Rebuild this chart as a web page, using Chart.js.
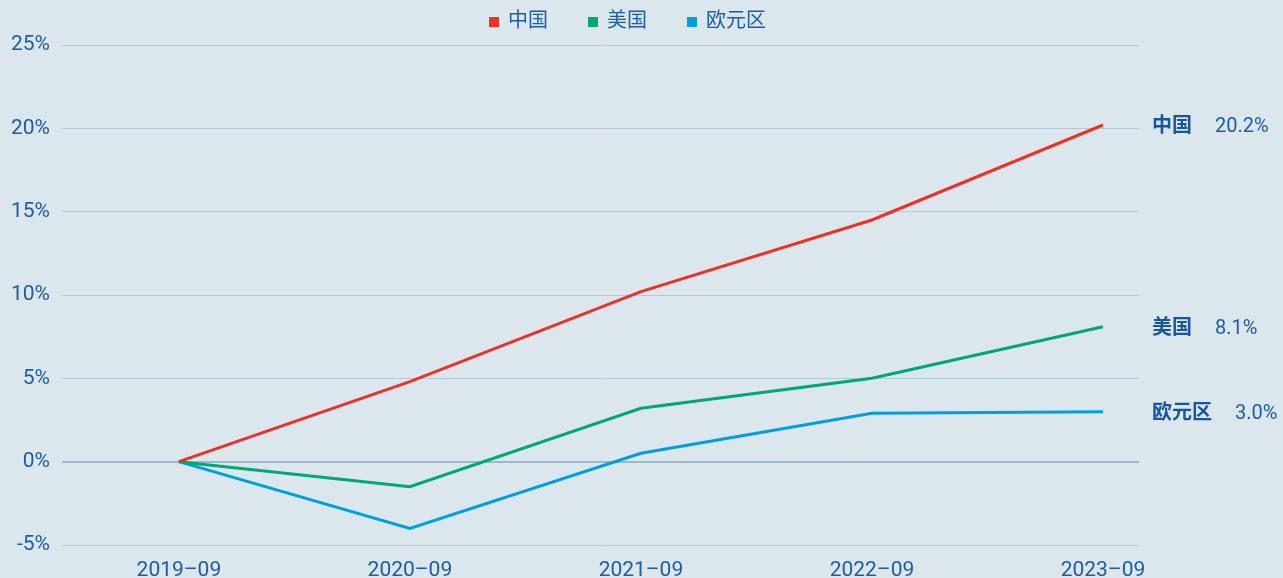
<!DOCTYPE html>
<html>
<head>
<meta charset="utf-8">
<script src="https://cdn.jsdelivr.net/npm/chart.js@4"></script>
<style>
  html, body { margin: 0; padding: 0; background: #dce6ed; overflow: hidden; }
  #wrap { width: 1283px; height: 578px; }
</style>
</head>
<body>
<div id="wrap"><canvas id="growthChart" width="1283" height="578"></canvas></div>
<script>
// cumulative growth since 2019-09, percent
const periods = ['2019–09', '2020–09', '2021–09', '2022–09', '2023–09'];
const chinaGrowth = [0, 4.8, 10.2, 14.5, 20.2];
const usGrowth = [0, -1.5, 3.2, 5.0, 8.1];
const euroGrowth = [0, -4.0, 0.5, 2.9, 3.0];
const seriesNames = ['中国', '美国', '欧元区'];
const seriesColors = ['#ec3228', '#00a874', '#00a0df'];
const yTicks = [-5, 0, 5, 10, 15, 20, 25];

const textBlue = '#1b5ea5';
const numFont = 'Roboto, "Noto Sans CJK SC", sans-serif';

// legend across the top, centred (nudged left a little)
const topLegend = {
  id: 'topLegend',
  afterDraw(chart) {
    const ctx = chart.ctx;
    ctx.save();
    ctx.font = '20px ' + numFont;
    ctx.textBaseline = 'middle';
    const box = 10, gap = 9, spacing = 40;
    const widths = seriesNames.map(n => box + gap + ctx.measureText(n).width);
    const total = widths.reduce((a, b) => a + b, 0) + spacing * (widths.length - 1);
    let x = (chart.width - total) / 2 - 14;
    const y = 22;
    seriesNames.forEach((n, i) => {
      ctx.fillStyle = seriesColors[i];
      ctx.fillRect(x, y - box / 2, box, box);
      ctx.fillStyle = textBlue;
      ctx.textAlign = 'left';
      ctx.fillText(n, x + box + gap, y);
      x += widths[i] + spacing;
    });
    ctx.restore();
  }
};

// name + last value printed to the right of each line
const endLabels = {
  id: 'endLabels',
  afterDraw(chart) {
    const ctx = chart.ctx;
    const yScale = chart.scales.y;
    ctx.save();
    ctx.textBaseline = 'middle';
    ctx.textAlign = 'left';
    chart.data.datasets.forEach((ds, i) => {
      const last = ds.data[ds.data.length - 1];
      const y = yScale.getPixelForValue(last) + 2;
      const x = 1152;
      ctx.font = 'bold 20px ' + numFont;
      ctx.fillStyle = '#14579f';
      ctx.fillText(ds.label, x, y);
      const w = ctx.measureText(ds.label).width;
      ctx.font = '20px ' + numFont;
      ctx.fillStyle = textBlue;
      ctx.fillText(last.toFixed(1) + '%', x + w + 23, y);
    });
    ctx.restore();
  }
};

const series = [chinaGrowth, usGrowth, euroGrowth];

new Chart(document.getElementById('growthChart'), {
  type: 'line',
  data: {
    labels: periods.map((_, i) => i),
    datasets: series.map((values, i) => ({
      label: seriesNames[i],
      data: values,
      borderColor: seriesColors[i],
      backgroundColor: seriesColors[i],
      borderWidth: 3,
      pointRadius: 0,
      tension: 0
    }))
  },
  options: {
    responsive: false,
    animation: false,
    layout: { padding: { top: 45, right: 144, left: 0, bottom: 0 } },
    plugins: {
      legend: { display: false },
      tooltip: { enabled: false }
    },
    scales: {
      x: {
        type: 'linear',
        min: -0.506,
        max: 4.156,
        afterBuildTicks(scale) {
          scale.ticks = periods.map((_, i) => ({ value: i }));
        },
        afterFit(scale) { scale.height = 33; },
        grid: { display: false, drawTicks: false },
        border: { display: false },
        ticks: {
          padding: 13,
          color: textBlue,
          font: { family: numFont, size: 21 },
          maxRotation: 0,
          autoSkip: false,
          callback: v => periods[v]
        }
      },
      y: {
        min: -5,
        max: 25,
        afterBuildTicks(scale) {
          scale.ticks = yTicks.map(v => ({ value: v }));
        },
        afterFit(scale) { scale.width = 62; },
        border: { display: false },
        grid: {
          drawTicks: false,
          color: ctx => ctx.tick.value === 0 ? '#9db7ce' : '#b2c9dc',
          lineWidth: ctx => ctx.tick.value === 0 ? 2 : 1
        },
        ticks: {
          padding: 12,
          color: textBlue,
          font: { family: numFont, size: 21 },
          callback: v => v + '%'
        }
      }
    }
  },
  plugins: [topLegend, endLabels]
});
</script>
</body>
</html>
